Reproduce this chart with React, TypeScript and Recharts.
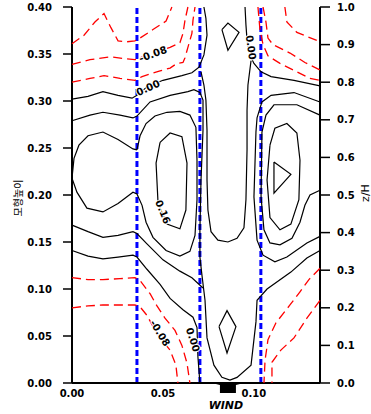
import React from 'react';
import { ScatterChart, Scatter, XAxis, YAxis, ReferenceLine } from 'recharts';

type Pt = [number, number];

// axis ticks
const xTicks = [0, 0.05, 0.1];
const topTicks = [0.05, 0.1];
const heightTicks = [0, 0.05, 0.1, 0.15, 0.2, 0.25, 0.3, 0.35, 0.4];
const zhTicks = [0, 0.1, 0.2, 0.3, 0.4, 0.5, 0.6, 0.7, 0.8, 0.9, 1.0];

// blue dashed section lines and the wind marker
const sectionX = [0.0357, 0.0703, 0.1038];
const windX = 0.0857;

// ---- solid contours (>= 0) ----
const zeroUpperLeft: Pt[] = [[0, 0.302], [0.0088, 0.305], [0.017, 0.31], [0.0253, 0.306], [0.033, 0.303], [0.0357, 0.306], [0.0412, 0.315], [0.05, 0.322], [0.0604, 0.327], [0.0659, 0.33], [0.0698, 0.336], [0.0725, 0.349], [0.0742, 0.37], [0.0736, 0.388], [0.0725, 0.4]];
const fourUpper: Pt[] = [[0, 0.279], [0.0099, 0.285], [0.017, 0.288], [0.0264, 0.285], [0.0335, 0.282], [0.0357, 0.284], [0.0429, 0.299], [0.0539, 0.306], [0.0637, 0.31], [0.067, 0.312], [0.0703, 0.309], [0.072, 0.301], [0.072, 0.269], [0.0709, 0.216], [0.0703, 0.163], [0.0703, 0.134], [0.0714, 0.115], [0.0731, 0.088], [0.0742, 0.048], [0.078, 0.019], [0.0824, 0.006], [0.0868, 0.003], [0.0907, 0.006], [0.0984, 0.019], [0.1011, 0.065], [0.1017, 0.088], [0.1072, 0.1], [0.1203, 0.118], [0.1291, 0.133], [0.1363, 0.141]];
const gapLoop: Pt[] = [[0.0709, 0.331], [0.0725, 0.317], [0.0736, 0.301], [0.0742, 0.269], [0.0742, 0.216], [0.0747, 0.184], [0.0764, 0.161], [0.0802, 0.152], [0.0857, 0.15], [0.0907, 0.154], [0.0945, 0.165], [0.0956, 0.195], [0.0962, 0.248], [0.0962, 0.29], [0.0967, 0.317], [0.0984, 0.343]];
const zeroUpperRight: Pt[] = [[0.0951, 0.4], [0.0956, 0.381], [0.0962, 0.365], [0.0978, 0.349], [0.1, 0.34], [0.1039, 0.331], [0.1094, 0.326], [0.122, 0.322], [0.1363, 0.316]];
const topBump: Pt[] = [[0.0824, 0.376], [0.0857, 0.383], [0.0918, 0.373], [0.0857, 0.354], [0.0824, 0.376]];
const floorBump: Pt[] = [[0.0808, 0.06], [0.0852, 0.077], [0.0901, 0.06], [0.0852, 0.032], [0.0808, 0.06]];
const rightFour: Pt[] = [[0.1363, 0.299], [0.122, 0.309], [0.1094, 0.306], [0.1044, 0.299], [0.1017, 0.282], [0.1011, 0.267], [0.1, 0.198], [0.1017, 0.152], [0.105, 0.136], [0.1115, 0.129], [0.1181, 0.134], [0.1291, 0.149], [0.1363, 0.156]];
const rightEight: Pt[] = [[0.1363, 0.285], [0.1236, 0.296], [0.111, 0.296], [0.1066, 0.285], [0.1044, 0.267], [0.1039, 0.198], [0.1055, 0.163], [0.1088, 0.149], [0.1143, 0.147], [0.1209, 0.154], [0.1253, 0.171], [0.128, 0.189], [0.1308, 0.2], [0.1363, 0.205]];
const rightTwelve: Pt[] = [[0.1088, 0.253], [0.1115, 0.271], [0.1181, 0.276], [0.1236, 0.266], [0.1253, 0.237], [0.1247, 0.195], [0.1203, 0.169], [0.1143, 0.163], [0.1088, 0.176], [0.1072, 0.216], [0.1088, 0.253]];
const rightCore: Pt[] = [[0.111, 0.235], [0.1203, 0.222], [0.111, 0.202], [0.111, 0.235]];
const leftCore: Pt[] = [[0.0484, 0.256], [0.0539, 0.266], [0.0604, 0.262], [0.0632, 0.234], [0.0626, 0.184], [0.0593, 0.164], [0.0522, 0.169], [0.0473, 0.191], [0.0462, 0.234], [0.0484, 0.256]];
const leftOuter: Pt[] = [[0.0357, 0.248], [0.0374, 0.263], [0.0407, 0.276], [0.0456, 0.284], [0.0522, 0.288], [0.0593, 0.289], [0.0648, 0.285], [0.0681, 0.272], [0.0687, 0.237], [0.0687, 0.195], [0.0676, 0.157], [0.0648, 0.14], [0.0593, 0.135], [0.0517, 0.141], [0.0445, 0.155], [0.0407, 0.171], [0.0385, 0.189], [0.0357, 0.201], [0.0335, 0.203], [0.0253, 0.191], [0.017, 0.182], [0.0082, 0.186], [0.0027, 0.203], [0, 0.218], [0.0011, 0.239], [0.0038, 0.253], [0.0088, 0.263], [0.017, 0.267], [0.0253, 0.259], [0.0335, 0.249], [0.0357, 0.248]];
const fourLowerLeft: Pt[] = [[0, 0.168], [0.0088, 0.161], [0.017, 0.155], [0.0253, 0.157], [0.0335, 0.161], [0.0357, 0.159], [0.0412, 0.148], [0.05, 0.131], [0.0593, 0.119], [0.0659, 0.112], [0.072, 0.101]];
const zeroLowerLeft: Pt[] = [[0, 0.141], [0.0088, 0.135], [0.017, 0.132], [0.0253, 0.134], [0.0335, 0.136], [0.0357, 0.134], [0.0412, 0.121], [0.0484, 0.105], [0.0539, 0.09], [0.061, 0.078], [0.0665, 0.07], [0.0687, 0.059], [0.0692, 0.028], [0.0703, 0]];

// ---- dashed contours (< 0) ----
const negUpperLeftA: Pt[] = [[0, 0.361], [0.0066, 0.37], [0.0126, 0.384], [0.0176, 0.393], [0.0214, 0.378], [0.0253, 0.364], [0.0302, 0.363], [0.0346, 0.364], [0.0374, 0.367], [0.0445, 0.376], [0.0517, 0.385], [0.0549, 0.4]];
const negUpperLeftB: Pt[] = [[0, 0.339], [0.0099, 0.344], [0.0209, 0.347], [0.0291, 0.345], [0.0346, 0.344], [0.0374, 0.346], [0.0456, 0.352], [0.0539, 0.357], [0.0593, 0.362], [0.061, 0.372], [0.0621, 0.386], [0.0637, 0.4]];
const negUpperLeftC: Pt[] = [[0, 0.32], [0.0099, 0.324], [0.0176, 0.327], [0.0264, 0.324], [0.0346, 0.322], [0.0385, 0.326], [0.0484, 0.332], [0.0539, 0.335], [0.0577, 0.34], [0.061, 0.341], [0.0621, 0.346], [0.0637, 0.357], [0.0659, 0.372], [0.0665, 0.386], [0.0676, 0.4]];
const negUpperRightA: Pt[] = [[0.117, 0.4], [0.1181, 0.384], [0.1236, 0.373], [0.1363, 0.363]];
const negUpperRightB: Pt[] = [[0.105, 0.4], [0.1066, 0.384], [0.1077, 0.367], [0.1104, 0.36], [0.1198, 0.351], [0.128, 0.341], [0.1363, 0.333]];
const negUpperRightC: Pt[] = [[0.1022, 0.4], [0.1033, 0.376], [0.105, 0.36], [0.1077, 0.348], [0.1143, 0.34], [0.1236, 0.331], [0.1308, 0.324], [0.1363, 0.322]];
const negLowerLeftA: Pt[] = [[0, 0.112], [0.0088, 0.11], [0.017, 0.11], [0.0264, 0.111], [0.0346, 0.112], [0.0374, 0.109], [0.0429, 0.095], [0.0467, 0.082], [0.0511, 0.069], [0.0566, 0.056], [0.0604, 0.04], [0.0632, 0.021], [0.0648, 0]];
const negLowerLeftB: Pt[] = [[0, 0.08], [0.0088, 0.082], [0.017, 0.083], [0.0264, 0.083], [0.0346, 0.083], [0.0374, 0.081], [0.0412, 0.072], [0.044, 0.062], [0.0484, 0.048], [0.0539, 0.035], [0.0571, 0.019], [0.0582, 0]];
const negLowerRightA: Pt[] = [[0.1363, 0.122], [0.1302, 0.11], [0.1253, 0.097], [0.1198, 0.083], [0.1121, 0.064], [0.1077, 0.046], [0.1061, 0.024], [0.1055, 0]];
const negLowerRightB: Pt[] = [[0.1363, 0.088], [0.1291, 0.069], [0.122, 0.048], [0.1148, 0.035], [0.1099, 0.022], [0.1099, 0]];

const solidLines = [zeroUpperLeft, fourUpper, gapLoop, zeroUpperRight, topBump, floorBump, rightFour, rightEight, rightTwelve, rightCore, leftCore, leftOuter, fourLowerLeft, zeroLowerLeft];
const dashedLines = [negUpperLeftA, negUpperLeftB, negUpperLeftC, negUpperRightA, negUpperRightB, negUpperRightC, negLowerLeftA, negLowerLeftB, negLowerRightA, negLowerRightB];

// contour labels
const labelText = ['-0.08', '0.00', '0.16', '0.00', '-0.08', '0.00'];
const labelX = [0.0445, 0.0418, 0.05, 0.0984, 0.0484, 0.0665];
const labelY = [0.35, 0.314, 0.182, 0.357, 0.053, 0.046];
const labelAngle = [-20, -25, 68, 82, 58, 72];

const toXY = (pts: Pt[]) => pts.map(([x, y]) => ({ x, y }));
const labelData = labelText.map((t, i) => ({ x: labelX[i], y: labelY[i], t, a: labelAngle[i] }));

const tickFont = { fontSize: 10, fontWeight: 'bold', fill: '#000', fontFamily: 'DejaVu Sans' };
const noDot = () => <g />;

const ContourLabel = (p: any) => {
  const d = p.payload ?? p;
  return (
    <text
      x={p.cx}
      y={p.cy}
      transform={`rotate(${d.a} ${p.cx} ${p.cy})`}
      textAnchor="middle"
      dominantBaseline="central"
      fontFamily="DejaVu Sans"
      fontWeight="bold"
      fontSize={10}
      fill="#000"
      stroke="#fff"
      strokeWidth={2}
      paintOrder="stroke"
    >
      {d.t}
    </text>
  );
};

const WindMark = (p: any) => {
  const { cx, cy } = p;
  const pts = [
    [cx - 16, cy], [cx + 16, cy], [cx + 8, cy + 2], [cx + 8, cy + 10], [cx - 8, cy + 10], [cx - 8, cy + 2],
  ].map((q) => q.join(',')).join(' ');
  return (
    <g>
      <polygon points={pts} fill="#000" />
      <text x={cx - 2} y={cy + 26} textAnchor="middle" fontFamily="DejaVu Sans" fontWeight="bold" fontStyle="italic" fontSize={11} fill="#000">
        WIND
      </text>
    </g>
  );
};

const App = () => {
  return (
    <div style={{ position: 'absolute', left: 0, top: 0, background: '#fff' }}>
      <ScatterChart width={371} height={414} margin={{ top: 7, right: 0, bottom: 0, left: 8 }}>
        <XAxis
          xAxisId="bottom"
          dataKey="x"
          type="number"
          domain={[0, 0.1363]}
          ticks={xTicks}
          interval={0}
          tickFormatter={(v: number) => v.toFixed(2)}
          height={31}
          tickSize={0}
          tickMargin={7}
          tickLine={false}
          axisLine={{ stroke: '#000', strokeWidth: 2 }}
          tick={tickFont}
        />
        <XAxis
          xAxisId="top"
          orientation="top"
          dataKey="x"
          type="number"
          domain={[0, 0.1363]}
          ticks={topTicks}
          interval={0}
          height={0}
          tickSize={5}
          tick={false}
          tickLine={{ stroke: '#000', strokeWidth: 1.5 }}
          axisLine={{ stroke: '#000', strokeWidth: 2 }}
        />
        <YAxis
          yAxisId="left"
          dataKey="y"
          type="number"
          domain={[0, 0.4]}
          ticks={heightTicks}
          interval={0}
          width={64}
          tickSize={9}
          tickMargin={11}
          tickFormatter={(v: number) => v.toFixed(2)}
          tickLine={{ stroke: '#000', strokeWidth: 1.5 }}
          axisLine={{ stroke: '#000', strokeWidth: 2 }}
          tick={tickFont}
          label={(props: any) => {
            const vb = props.viewBox;
            const cx = vb.x + 9;
            const cy = vb.y + 191;
            return (
              <text x={cx} y={cy} transform={`rotate(-90 ${cx} ${cy})`} textAnchor="middle" dominantBaseline="central" fontFamily="Noto Sans CJK KR" fontSize={10} fill="#000">
                모형높이
              </text>
            );
          }}
        />
        <YAxis
          yAxisId="right"
          orientation="right"
          dataKey="y"
          type="number"
          domain={[0, 1]}
          ticks={zhTicks}
          interval={0}
          width={51}
          tickSize={10}
          tickMargin={7}
          tickFormatter={(v: number) => v.toFixed(1)}
          tickLine={{ stroke: '#000', strokeWidth: 1.5 }}
          axisLine={{ stroke: '#000', strokeWidth: 2 }}
          tick={tickFont}
          label={(props: any) => {
            const vb = props.viewBox;
            const cx = vb.x + 45;
            const cy = vb.y + 186;
            return (
              <text x={cx} y={cy} transform={`rotate(-90 ${cx} ${cy})`} textAnchor="middle" dominantBaseline="central" fontFamily="DejaVu Sans" fontSize={11} fill="#000">
                z/H
              </text>
            );
          }}
        />

        {dashedLines.map((pts, i) => (
          <Scatter
            key={`neg-${i}`}
            xAxisId="bottom"
            yAxisId="left"
            data={toXY(pts)}
            shape={noDot}
            line={{ stroke: '#ff0000', strokeWidth: 1.3, strokeDasharray: '9 5' }}
            isAnimationActive={false}
          />
        ))}
        {solidLines.map((pts, i) => (
          <Scatter
            key={`pos-${i}`}
            xAxisId="bottom"
            yAxisId="left"
            data={toXY(pts)}
            shape={noDot}
            line={{ stroke: '#000', strokeWidth: 1.2 }}
            isAnimationActive={false}
          />
        ))}

        {sectionX.map((x) => (
          <ReferenceLine key={x} xAxisId="bottom" yAxisId="left" x={x} stroke="#0000ff" strokeWidth={3} strokeDasharray="6 3" />
        ))}

        <Scatter xAxisId="top" yAxisId="left" data={labelData} shape={ContourLabel} isAnimationActive={false} />
        <Scatter xAxisId="bottom" yAxisId="right" data={[{ x: windX, y: 0 }]} shape={WindMark} isAnimationActive={false} />
      </ScatterChart>
    </div>
  );
};

export default App;
